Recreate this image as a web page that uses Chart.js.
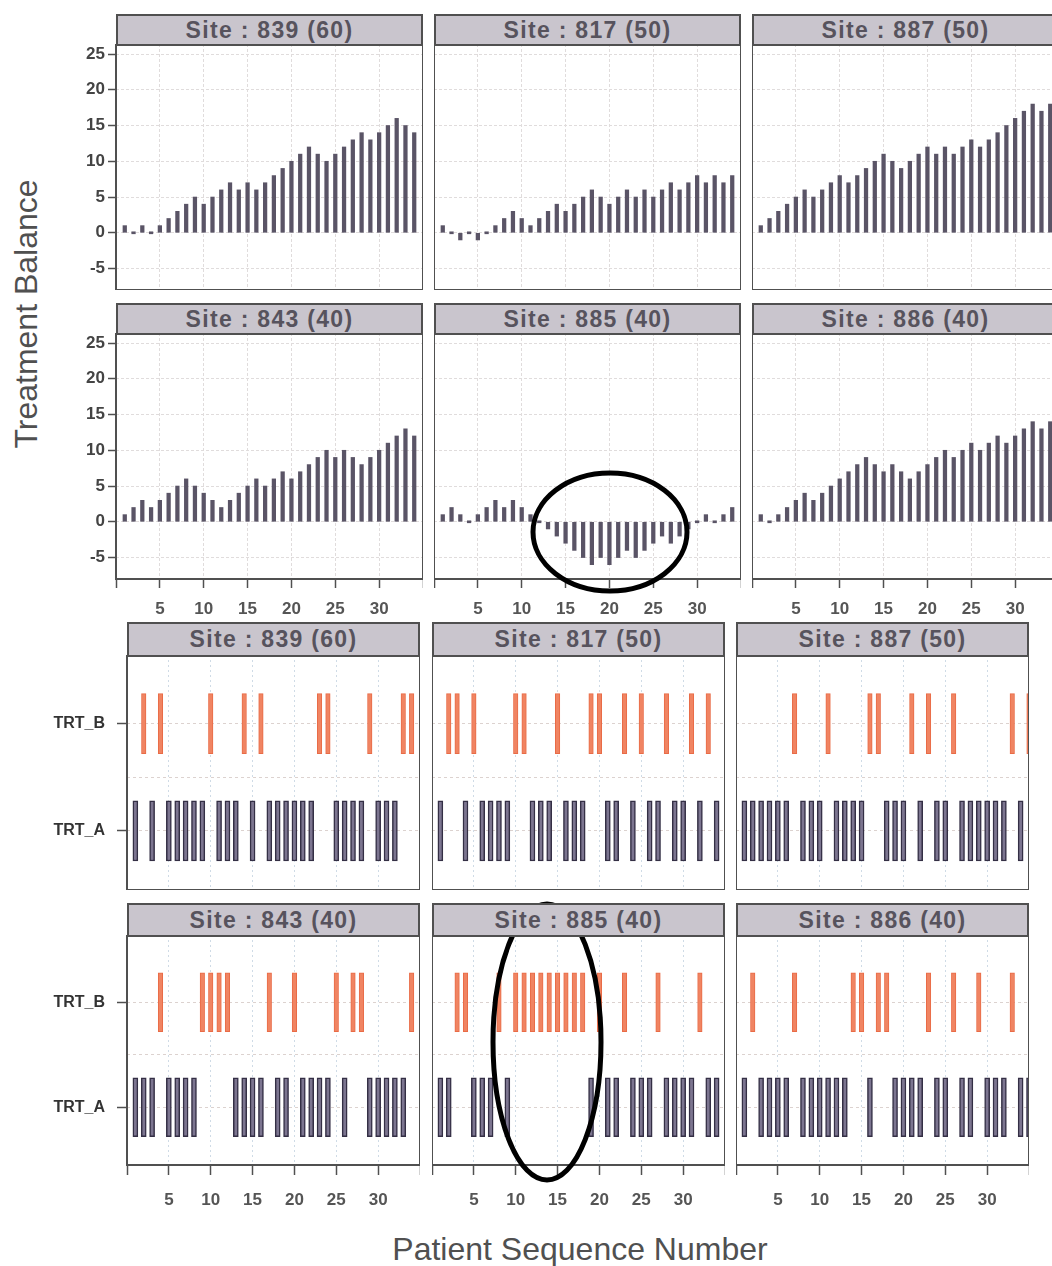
<!DOCTYPE html>
<html>
<head>
<meta charset="utf-8">
<script src="https://cdn.jsdelivr.net/npm/chart.js@4.4.1/dist/chart.umd.min.js"></script>
<style>
  body { margin: 0; background: #fff; width: 1052px; height: 1266px; overflow: hidden; position: relative;
         font-family: "Liberation Sans", Arial, sans-serif; }
  canvas { position: absolute; }
  .cabecera { position: absolute; box-sizing: border-box; background: #c9c5cd; border: 2px solid #505050;
              text-align: center; font-weight: bold; font-size: 23px; letter-spacing: 1.3px; color: #57535d; }
  .titulo { position: absolute; color: #505050; white-space: nowrap; }
  svg { position: absolute; left: 0; top: 0; pointer-events: none; }
</style>
</head>
<body>
<div class="titulo" style="left:26px; top:314px; font-size:32px; transform: translate(-50%, -50%) rotate(-90deg);">Treatment Balance</div>
<div class="titulo" style="left:580px; top:1249px; font-size:32px; transform: translate(-50%, -50%);">Patient Sequence Number</div>

<svg width="1052" height="1266">
  <ellipse cx="610" cy="532" rx="77" ry="59" fill="none" stroke="#000" stroke-width="5"/>
  <ellipse cx="547" cy="1042" rx="54" ry="138" fill="none" stroke="#000" stroke-width="5"/>
</svg>

<script>
// Datos
const sitios = ['Site : 839 (60)', 'Site : 817 (50)', 'Site : 887 (50)',
                'Site : 843 (40)', 'Site : 885 (40)', 'Site : 886 (40)'];
const pacientes = [1,2,3,4,5,6,7,8,9,10,11,12,13,14,15,16,17,18,19,20,21,22,23,24,25,26,27,28,29,30,31,32,33,34];

// Balance de tratamiento (A - B) por paciente
const balance839 = [1,0,1,0,1,2,3,4,5,4,5,6,7,6,7,6,7,8,9,10,11,12,11,10,11,12,13,14,13,14,15,16,15,14];
const balance817 = [1,0,-1,0,-1,0,1,2,3,2,1,2,3,4,3,4,5,6,5,4,5,6,5,6,5,6,7,6,7,8,7,8,7,8];
const balance887 = [1,2,3,4,5,6,5,6,7,8,7,8,9,10,11,10,9,10,11,12,11,12,11,12,13,12,13,14,15,16,17,18,17,18];
const balance843 = [1,2,3,2,3,4,5,6,5,4,3,2,3,4,5,6,5,6,7,6,7,8,9,10,9,10,9,8,9,10,11,12,13,12];
const balance885 = [1,2,1,0,1,2,3,2,3,2,1,0,-1,-2,-3,-4,-5,-6,-5,-6,-5,-4,-5,-4,-3,-2,-3,-2,-1,0,1,0,1,2];
const balance886 = [1,0,1,2,3,4,3,4,5,6,7,8,9,8,7,8,7,6,7,8,9,10,9,10,11,10,11,12,11,12,13,14,13,14];

// Pacientes asignados a cada brazo
const trtA839 = [1,3,5,6,7,8,9,11,12,13,15,17,18,19,20,21,22,25,26,27,28,30,31,32];
const trtB839 = [2,4,10,14,16,23,24,29,33,34];
const trtA817 = [1,4,6,7,8,9,12,13,14,16,17,18,21,22,24,26,27,29,30,32,34];
const trtB817 = [2,3,5,10,11,15,19,20,23,25,28,31,33];
const trtA887 = [1,2,3,4,5,6,8,9,10,12,13,14,15,18,19,20,22,24,25,27,28,29,30,31,32,34];
const trtB887 = [7,11,16,17,21,23,26,33,35];
const trtA843 = [1,2,3,5,6,7,8,13,14,15,16,18,19,21,22,23,24,26,29,30,31,32,33];
const trtB843 = [4,9,10,11,12,17,20,25,27,28,34];
const trtA885 = [1,2,5,6,7,9,19,21,22,24,25,26,28,29,30,31,33,34];
const trtB885 = [3,4,8,10,11,12,13,14,15,16,17,18,20,23,27,32];
const trtA886 = [1,3,4,5,6,8,9,10,11,12,13,16,19,20,21,22,24,25,27,28,30,31,32,34,35];
const trtB886 = [2,7,14,15,17,18,23,26,29,33];

const ticksX = [0,5,10,15,20,25,30,35];
const ticksBalance = [-5,0,5,10,15,20,25];
const nivelesBrazo = [1, 1.5, 2];
const etiquetasBrazo = { 1: 'TRT_A', 2: 'TRT_B' };

const balances = [balance839, balance817, balance887, balance843, balance885, balance886];
const brazosA = [trtA839, trtA817, trtA887, trtA843, trtA885, trtA886];
const brazosB = [trtB839, trtB817, trtB887, trtB843, trtB885, trtB886];

// Marco del panel
const marco = {
    id: 'marco',
    afterDraw(chart) {
        const { ctx, chartArea: a } = chart;
        ctx.save();
        ctx.strokeStyle = '#505050';
        ctx.lineWidth = 2;
        ctx.strokeRect(a.left, a.top, a.right - a.left, a.bottom - a.top);
        ctx.restore();
    }
};

// Quita el relleno que Chart.js reserva para las etiquetas de los extremos
function sinRelleno(s) {
    s.paddingTop = 0; s.paddingBottom = 0;
    s.paddingLeft = 0; s.paddingRight = 0;
}

function crearCabecera(texto, left, top, width, height) {
    const d = document.createElement('div');
    d.className = 'cabecera';
    d.textContent = texto;
    d.style.left = left + 'px';
    d.style.top = top + 'px';
    d.style.width = width + 'px';
    d.style.height = (height + 2) + 'px';
    d.style.lineHeight = (height - 2) + 'px';
    document.body.appendChild(d);
}

function crearCanvas(left, top, width, height) {
    const c = document.createElement('canvas');
    c.width = width; c.height = height;
    c.style.left = left + 'px'; c.style.top = top + 'px';
    c.style.width = width + 'px'; c.style.height = height + 'px';
    document.body.insertBefore(c, document.querySelector('svg'));
    return c;
}

const fuenteTicks = { family: 'Liberation Sans', size: 17, weight: 'bold' };

// GRAFICAS DE BALANCE
const colsBal = [116, 434, 752];
const anchoBal = 307;
const filasBal = [{ cab: 14, plot: 44 }, { cab: 303, plot: 333 }];
const altoBal = 246;

function crearBalance(i) {
    const col = i % 3, fila = Math.floor(i / 3);
    const ejeY = col === 0 ? 45 : 0;
    const ejeX = fila === 1 ? 45 : 0;
    crearCabecera(sitios[i], colsBal[col], filasBal[fila].cab, anchoBal, 30);
    const c = crearCanvas(colsBal[col] - ejeY, filasBal[fila].plot, anchoBal + ejeY, altoBal + ejeX);

    new Chart(c.getContext('2d'), {
        type: 'bar',
        data: {
            datasets: [{
                data: pacientes.map((p, k) => ({ x: p, y: balances[i][k] })),
                backgroundColor: '#5a5466',
                barThickness: 3.6,
                minBarLength: 2
            }]
        },
        options: {
            responsive: false,
            animation: false,
            events: [],
            layout: { padding: 0 },
            plugins: { legend: { display: false }, tooltip: { enabled: false } },
            scales: {
                x: {
                    type: 'linear', min: 0, max: 35, offset: false,
                    afterBuildTicks: s => { s.ticks = ticksX.map(v => ({ value: v })); },
                    afterFit: s => { s.height = ejeX; sinRelleno(s); },
                    grid: {
                        offset: false,
                        color: ctx => (ctx.tick && (ctx.tick.value === 0 || ctx.tick.value === 35)) ? 'rgba(0,0,0,0)' : '#e0dcdc',
                        drawTicks: fila === 1, tickLength: 9, tickColor: '#505050', tickWidth: 1.5
                    },
                    border: { display: false, dash: [3, 2] },
                    ticks: {
                        display: fila === 1, autoSkip: false, maxRotation: 0, padding: 11,
                        callback: v => (v === 0 || v === 35) ? '' : v,
                        color: '#555', font: fuenteTicks
                    }
                },
                y: {
                    min: -8, max: 26.4,
                    afterBuildTicks: s => { s.ticks = ticksBalance.map(v => ({ value: v })); },
                    afterFit: s => { s.width = ejeY; sinRelleno(s); },
                    grid: { color: '#e0dcdc', drawTicks: col === 0, tickLength: 8, tickColor: '#505050', tickWidth: 1.5 },
                    border: { display: false, dash: [3, 2] },
                    ticks: {
                        display: col === 0, padding: 3,
                        color: '#444', font: fuenteTicks
                    }
                }
            }
        },
        plugins: [marco]
    });
}

// GRAFICAS DE ASIGNACION
const colsAsig = [127, 432, 736];
const anchoAsig = 293;
const filasAsig = [{ cab: 622, plot: 655, alto: 235 }, { cab: 903, plot: 935, alto: 230 }];
const medioAlto = 0.28;

function crearAsignacion(i) {
    const col = i % 3, fila = Math.floor(i / 3);
    const ejeY = col === 0 ? 90 : 0;
    const ejeX = fila === 1 ? 50 : 0;
    const f = filasAsig[fila];
    crearCabecera(sitios[i], colsAsig[col], f.cab, anchoAsig, f.plot - f.cab);
    const c = crearCanvas(colsAsig[col] - ejeY, f.plot, anchoAsig + ejeY, f.alto + ejeX);

    new Chart(c.getContext('2d'), {
        type: 'bar',
        data: {
            datasets: [{
                data: brazosA[i].map(p => ({ x: p, y: [1 - medioAlto, 1 + medioAlto] })),
                backgroundColor: '#7c7590',
                borderColor: '#342f45',
                borderWidth: 1.5,
                borderSkipped: false,
                barThickness: 5,
                grouped: false
            }, {
                data: brazosB[i].map(p => ({ x: p, y: [2 - medioAlto, 2 + medioAlto] })),
                backgroundColor: '#f08462',
                borderColor: '#e96b46',
                borderWidth: 1,
                borderSkipped: false,
                barThickness: 4.5,
                grouped: false
            }]
        },
        options: {
            responsive: false,
            animation: false,
            events: [],
            layout: { padding: 0 },
            plugins: { legend: { display: false }, tooltip: { enabled: false } },
            scales: {
                x: {
                    type: 'linear', min: 0, max: 35, offset: false,
                    afterBuildTicks: s => { s.ticks = ticksX.map(v => ({ value: v })); },
                    afterFit: s => { s.height = ejeX; sinRelleno(s); },
                    grid: {
                        offset: false,
                        color: ctx => (ctx.tick && (ctx.tick.value === 0 || ctx.tick.value === 35)) ? 'rgba(0,0,0,0)' : '#cfdbe6',
                        drawTicks: fila === 1, tickLength: 10, tickColor: '#505050', tickWidth: 1.5
                    },
                    border: { display: false, dash: [2, 3] },
                    ticks: {
                        display: fila === 1, autoSkip: false, maxRotation: 0, padding: 15,
                        callback: v => (v === 0 || v === 35) ? '' : v,
                        color: '#555', font: fuenteTicks
                    }
                },
                y: {
                    min: 0.45, max: 2.64,
                    afterBuildTicks: s => { s.ticks = nivelesBrazo.map(v => ({ value: v })); },
                    afterFit: s => { s.width = ejeY; sinRelleno(s); },
                    grid: {
                        color: '#dcd2cf', drawTicks: col === 0, tickLength: 10,
                        tickColor: ctx => (ctx.tick && ctx.tick.value === 1.5) ? 'rgba(0,0,0,0)' : '#505050', tickWidth: 1.5
                    },
                    border: { display: false, dash: [3, 3] },
                    ticks: {
                        display: col === 0, padding: 12,
                        callback: v => etiquetasBrazo[v] || '',
                        color: '#333', font: { family: 'Liberation Sans', size: 16, weight: 'bold' }
                    }
                }
            }
        },
        plugins: [marco]
    });
}

document.addEventListener('DOMContentLoaded', () => {
    for (let i = 0; i < 6; i++) {
        crearBalance(i);
        crearAsignacion(i);
    }
});
</script>
</body>
</html>
